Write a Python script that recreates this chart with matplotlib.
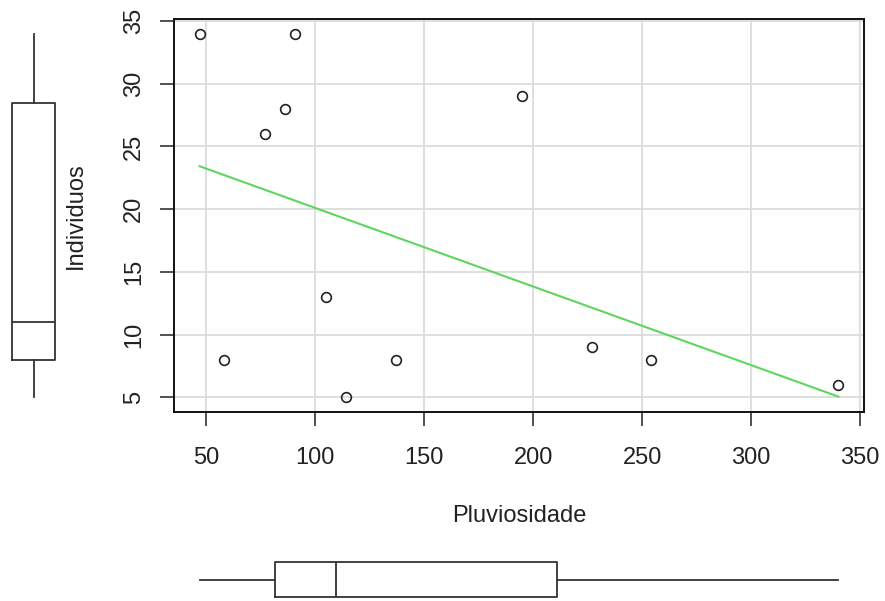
import numpy as np
import matplotlib
matplotlib.use("Agg")
import matplotlib.pyplot as plt

plt.rcParams['font.family'] = ['Liberation Sans', 'DejaVu Sans']

pluviosidade = [47, 58, 77, 86, 91, 105, 114, 137, 195, 227, 254, 340]
individuos = [34, 8, 26, 28, 34, 13, 5, 8, 29, 9, 8, 6]
x_ticks = [50, 100, 150, 200, 250, 300, 350]
y_ticks = [5, 10, 15, 20, 25, 30, 35]

W, H = 885, 601
fig = plt.figure(figsize=(W / 100, H / 100), dpi=100)

def ax_px(l, t, r, b):
    return fig.add_axes([l / W, 1 - b / H, (r - l) / W, (b - t) / H])

def tukey_stats(values):
    v = np.sort(np.asarray(values, dtype=float))
    n = len(v)
    n4 = np.floor((n + 3) / 2) / 2
    idx = np.array([1, n4, (n + 1) / 2, n + 1 - n4, n]) - 1
    fn = 0.5 * (v[np.floor(idx).astype(int)] + v[np.ceil(idx).astype(int)])
    iqr = fn[3] - fn[1]
    lo = v[v >= fn[1] - 1.5 * iqr].min()
    hi = v[v <= fn[3] + 1.5 * iqr].max()
    return [dict(med=fn[2], q1=fn[1], q3=fn[3], whislo=lo, whishi=hi, fliers=[])]

xmin, xmax = min(pluviosidade), max(pluviosidade)
ymin, ymax = min(individuos), max(individuos)
xpad = 0.04 * (xmax - xmin)
ypad = 0.04 * (ymax - ymin)
xlim = (xmin - xpad, xmax + xpad)
ylim = (ymin - ypad, ymax + ypad)

FS = 17
ax = ax_px(174, 19, 864, 412)
ax.set_xlim(*xlim)
ax.set_ylim(*ylim)
ax.set_xticks(x_ticks)
ax.set_yticks(y_ticks)
ax.grid(True, color='#dcdcdc', linewidth=1.3)
ax.set_axisbelow(True)
for s in ax.spines.values():
    s.set_linewidth(1.4)
    s.set_color('#111111')
ax.tick_params(axis='both', direction='out', length=10, width=1.2, labelsize=FS,
               colors='#333333', labelcolor='#222222')
ax.tick_params(axis='x', pad=15)
ax.tick_params(axis='y', pad=11)
for lab in ax.get_yticklabels():
    lab.set_rotation(90)
    lab.set_va('center')

ax.plot(pluviosidade, individuos, 'o', mfc='none', mec='#222222', ms=7.0, mew=1.2)

coef = np.polyfit(pluviosidade, individuos, 1)
xs = np.array([xmin, xmax])
ax.plot(xs, np.polyval(coef, xs), color='#5fd55f', linewidth=1.5)

ax.set_xlabel('Pluviosidade', fontsize=FS, labelpad=26, color='#222222')
ax.set_ylabel('Individuos', fontsize=FS, labelpad=26, color='#222222')

boxprops = dict(color='#333333', linewidth=1.3)
# left boxplot
axl = ax_px(0, 19, 67, 412)
axl.set_ylim(*ylim)
axl.set_xlim(0, 67)
axl.bxp(tukey_stats(individuos), positions=[33.5], widths=43, showcaps=False,
        showfliers=False, boxprops=boxprops, whiskerprops=boxprops,
        medianprops=dict(color='#333333', linewidth=1.3), manage_ticks=False)
axl.axis('off')

# bottom boxplot
axb = ax_px(174, 555, 864, 601)
axb.set_xlim(*xlim)
axb.set_ylim(0, 46)
axb.bxp(tukey_stats(pluviosidade), positions=[21.5], widths=35, vert=False, showcaps=False,
        showfliers=False, boxprops=boxprops, whiskerprops=boxprops,
        medianprops=dict(color='#333333', linewidth=1.3), manage_ticks=False)
axb.axis('off')

fig.savefig('out.png', dpi=100)
